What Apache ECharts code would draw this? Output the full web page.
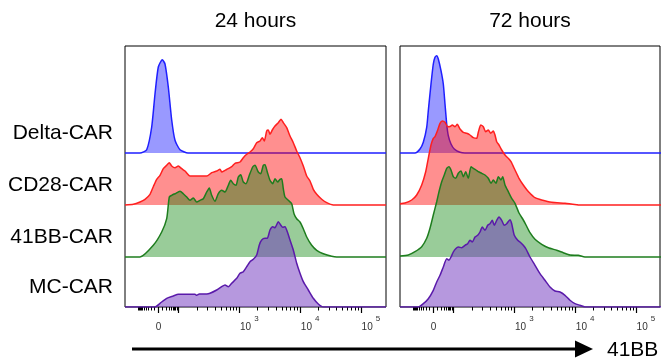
<!DOCTYPE html>
<html><head><meta charset="utf-8">
<script src="https://cdn.jsdelivr.net/npm/echarts@6/dist/echarts.min.js"></script>
<style>html,body{margin:0;padding:0;background:#fff}#c{width:661px;height:359px}</style>
</head><body><div id="c"></div>
<script>
// ---- labels ----
const panels = ['24 hours', '72 hours'];
const rows = ['Delta-CAR', 'CD28-CAR', '41BB-CAR', 'MC-CAR'];
const offsets = [154, 102, 50, 0];          // vertical offset of each row histogram (display units)
const tickValues = [0, 1e3, 1e4, 1e5];       // labelled ticks (41BB fluorescence)
const tickLabels = ['0', '10^3', '10^4', '10^5'];
const axisName = '41BB';

// ---- histograms: [display channel, normalised count] ----
const delta24 = [[0,0],[15,0],[21.7,3.3],[26.7,26],[30,59],[33.3,86],[37.3,93.3],[40,89],[43.3,66],[46.7,33],[50,12.7],[55,3.3],[63,0],[261,0]];
const cd28_24 = [[0,0],[8.3,0.7],[15,3],[20,5.7],[25,10.7],[28.3,18.3],[31.7,25.7],[35,29.7],[38.3,36.3],[41.7,39.7],[44.3,42.3],[46.7,39],[50,37.3],[53.3,39],[56.7,36.3],[60,34],[65,29],[71.7,29],[81.7,29],[86.7,32.3],[91.7,34],[95,35.7],[96.7,33],[100,34.7],[103.3,36.3],[106.7,38.3],[110,41.7],[115,43],[118.3,47.3],[121.7,50.7],[125,53],[128.3,56.3],[131.7,62.3],[135,64],[137.3,67.3],[139.3,64],[141.7,74],[143.3,75],[145,70.7],[147.3,75],[150,79],[153.3,82.3],[156,85.7],[158.3,82.3],[161.7,77.3],[165,69],[168.3,62.3],[171.7,54],[175,47.3],[178.3,39],[181.7,29],[185,24],[188.3,15.7],[191.7,10.7],[196.7,5.7],[201.7,2.3],[208.3,0],[261,0]];
const bb_24 = [[0,0],[15,0],[28.3,11.7],[36.7,25],[41.7,38.3],[44.3,60],[46.7,61.7],[50,63.3],[55,65.7],[58.3,63.3],[61.7,60],[65,56.7],[68.3,59],[71.7,55],[75,56.7],[78.3,58.3],[81.7,65],[84.3,69],[86.7,61.7],[90,55.7],[93.3,63.3],[96.7,66.7],[100,65],[103.3,71.7],[105.7,76.7],[108.3,73.3],[111,71.7],[113.3,80],[115.7,82.3],[118.3,75],[121,73.3],[124.3,81.7],[127.7,90],[130,91.7],[133.3,85],[135.7,83.3],[138.3,91.7],[140,92.3],[142.3,85],[145,76.7],[147.7,73.3],[150,78.3],[152.7,75],[155,77.7],[156.7,78.3],[158.3,68.3],[160,60],[163.3,56.7],[166.7,53.3],[169,43.3],[171.7,38.3],[175,35],[178.3,28.3],[181.7,20],[186.7,11.7],[191.7,6.7],[198.3,3.3],[206.7,0.7],[211.7,0],[261,0]];
const mc_24 = [[0,0],[30,0],[35,3.7],[41.7,8.7],[48.3,11],[53.3,12.7],[61.7,12.7],[70,12.7],[71.7,11.7],[74.3,13],[81.7,13],[85,13.7],[91.7,17],[96.7,20.3],[100,22],[103.3,20.3],[106.7,23.7],[111.7,28.7],[115,33.7],[118.3,35.3],[121.7,40.3],[125,45.3],[128.3,47.7],[131.7,52],[134.3,62],[136.7,67],[140,68.7],[142.3,68.7],[145,77],[147.7,80.3],[150,79.3],[153.3,85.3],[155.7,82],[157.7,79.7],[160,80.3],[162.3,75.3],[165,67],[168.3,57],[171.7,43.7],[175,33.7],[178.3,25.3],[183.3,17],[188.3,8.7],[193.3,3],[198.3,0],[261,0]];

const delta72 = [[0,0],[15,0],[20,4],[23.3,10.7],[26.7,25.7],[28.3,42.3],[31,69],[33.3,89],[35,95.7],[36.7,97.3],[38.3,94],[41,82.3],[43.3,69],[45,49],[46.7,29],[48.3,17.3],[51,9],[54.3,4],[60,0.7],[65,0],[261,0]];
const cd28_72 = [[0,1.3],[5,2],[11.7,5],[16.7,10],[21.7,20],[25.7,33.3],[28.3,46.7],[31,60],[33.3,66.7],[35,68.3],[37.7,75],[40,81.7],[42.3,84],[45,82.7],[47.7,78.3],[50,78.5],[52.3,80],[55,78.3],[57.3,80.7],[60,76],[63.3,72.7],[66.7,71.7],[70,70],[73.3,67.3],[76.7,66.7],[78.3,72.7],[80.7,80],[83.3,78.3],[85.7,73.3],[88.3,75],[90.7,71.7],[93.3,74],[95,70],[96.7,63.3],[99,60],[101.7,55],[105,50],[108.3,46.7],[111,43.3],[115,35],[119,26.7],[123.3,20],[127,15],[130,11.7],[135,7.3],[141.7,5],[151.7,2.7],[165,1.7],[176.7,0.3],[178.3,0],[261,0]];
const bb_72 = [[0,1],[8.3,2],[15,5.3],[21.7,10.3],[26.7,18.7],[30,28.7],[33.3,42],[36.7,55.3],[39,65.3],[41.7,75.3],[44.3,82],[46.7,88.7],[49,90.3],[51,87],[53.3,80.3],[55.7,78.7],[58.3,83.7],[61,86],[63.3,80.3],[65.7,85.3],[68.3,78.7],[71,90.3],[73.3,88.7],[76,87],[78.3,85.3],[81.7,83.7],[85,82],[88.3,78.7],[91,73.7],[93.3,77],[96,73.7],[98.3,80.3],[101,77],[102.7,80.3],[105,72],[108.3,65.3],[111.7,58.7],[115,53.7],[119,44],[123.3,37],[126,32],[130,24.3],[135,17.7],[141.7,12.7],[148.3,9.3],[156.7,6.7],[163.3,4.3],[170,2],[178.3,1.7],[185,0],[261,0]];
const mc_72 = [[0,0],[18.3,0],[23.3,3.3],[28.3,8.3],[33.3,16.7],[36.7,25],[40,31.7],[43.3,40],[46.7,48.3],[49,46.7],[51,50],[53.3,55],[55.7,58.3],[58.3,60],[61.7,59.3],[65,61.7],[67.7,63.3],[70,66.7],[72.3,65],[75,70],[77.7,71.7],[80,75],[82.3,80],[85,76.7],[87.7,81.7],[90,83.3],[92.3,86.7],[94.3,81.7],[96.7,86.7],[99,90],[101.7,86.7],[104.3,81.7],[106.7,83.3],[110,87.3],[111.7,83.3],[114.3,71.7],[117.7,66.7],[120,65],[123.3,61.7],[126,58],[130,50],[135,41.7],[140,33.3],[145,26.7],[150,20],[155,16],[160,15],[165,11.7],[170,6.7],[175,3.3],[180,1.7],[185,0],[261,0]];

const hist = [[delta24, cd28_24, bb_24, mc_24], [delta72, cd28_72, bb_72, mc_72]];

// ---- styling ----
const lineColors = ['#1f1fff', '#ff1f1f', '#1e7d1e', '#5a1aaa'];
const fillColors = ['rgba(0,0,255,0.4)', 'rgba(255,0,0,0.44)', 'rgba(0,128,0,0.4)', 'rgba(110,50,190,0.5)'];
const gridLeft = [125, 400], gridW = [261, 260], gridTop = 46, gridH = 261;
const FONT = 'Liberation Sans, Arial, sans-serif';

// biexponential display transform (value -> display channel)
function pos(v) {
  const a = Math.abs(v);
  if (v >= 100) return 114.3 + 60.8 * (Math.log10(v) - 3);
  return 33.5 + Math.sign(v) * 20.2 * Math.asinh(a / 20) / Math.asinh(5);
}
const majorVals = [0, 100, 1e3, 1e4, 1e5];
const minorVals = [];
for (let k = 1; k <= 9; k++) { minorVals.push(k * 10, -k * 10); }
minorVals.push(-100);
for (let d = 2; d <= 4; d++) for (let k = 2; k <= 9; k++) minorVals.push(k * Math.pow(10, d));
const majorPos = majorVals.map(pos);
const minorPos = minorVals.map(pos);
const labelPos = tickValues.map(pos);

function xLabel(value) {
  let i = labelPos.findIndex(p => Math.abs(p - value) < 0.01);
  if (i < 0) return '';
  const t = tickLabels[i];
  if (t.indexOf('^') < 0) return '{z|' + t + '}';
  const [b, e] = t.split('^');
  return '{b|' + b + '}{s|' + e + '}';
}

const xAxis = [], yAxis = [], grid = [], series = [];
panels.forEach((name, p) => {
  grid.push({left: gridLeft[p], top: gridTop, width: gridW[p], height: gridH, show: true,
    borderColor: '#000', borderWidth: 1, backgroundColor: 'transparent'});
  xAxis.push({
    gridIndex: p, type: 'value', min: 0, max: gridW[p], position: 'bottom',
    axisLine: {show: false}, splitLine: {show: false},
    axisTick: {show: true, customValues: majorPos, length: 6, lineStyle: {color: '#000', width: 1.2}},
    axisLabel: {
      customValues: labelPos, formatter: xLabel, margin: 8, color: '#333',
      rich: {
        z: {fontFamily: FONT, fontSize: 10, color: '#333', lineHeight: 17, verticalAlign: 'bottom'},
        b: {fontFamily: FONT, fontSize: 10, color: '#333', lineHeight: 17, verticalAlign: 'bottom', padding: [0, 0, 0, 20]},
        s: {fontFamily: FONT, fontSize: 8, color: '#333', lineHeight: 7, verticalAlign: 'top', padding: [0, 0, 0, 3]}
      }
    }
  });
  xAxis.push({
    gridIndex: p, type: 'value', min: 0, max: gridW[p], position: 'bottom',
    axisLine: {show: false}, splitLine: {show: false}, axisLabel: {show: false},
    axisTick: {show: true, customValues: minorPos, length: 3.5, lineStyle: {color: '#000', width: 1}}
  });
  yAxis.push({
    gridIndex: p, type: 'value', min: 0, max: gridH,
    axisLine: {show: false}, axisTick: {show: false}, splitLine: {show: false},
    axisLabel: p === 0 ? {
      customValues: offsets.map(o => o + 20),
      formatter: v => { const i = offsets.findIndex(o => Math.abs(o + 20 - v) < 0.01); return i < 0 ? '' : rows[i]; },
      fontFamily: FONT, fontSize: 21, color: '#000', margin: 12
    } : {show: false}
  });
  hist[p].forEach((d, r) => {
    series.push({
      name: rows[r] + ' ' + name, type: 'line', xAxisIndex: 2 * p, yAxisIndex: p,
      data: d.map(([x, h]) => [x, h + offsets[r]]),
      symbol: 'none', showSymbol: false, smooth: 0.2, silent: true, z: 2 + r,
      lineStyle: {color: lineColors[r], width: 1.5},
      areaStyle: {color: fillColors[r], opacity: 1, origin: offsets[r]}
    });
  });
});

const graphic = [];
panels.forEach((name, p) => {
  graphic.push({type: 'text', x: gridLeft[p] + gridW[p] / 2, y: 21,
    style: {text: name, font: '21px ' + FONT, fill: '#000', align: 'center', verticalAlign: 'middle',
      textAlign: 'center', textVerticalAlign: 'middle'}});
});
graphic.push({type: 'line', shape: {x1: 132, y1: 349, x2: 578, y2: 349}, style: {stroke: '#000', lineWidth: 3}});
graphic.push({type: 'polygon', shape: {points: [[575, 340.5], [593, 349], [575, 357.5]]}, style: {fill: '#000'}});
graphic.push({type: 'text', x: 607, y: 350,
  style: {text: axisName, font: '21px ' + FONT, fill: '#000', align: 'left', verticalAlign: 'middle',
    textAlign: 'left', textVerticalAlign: 'middle'}});

const chart = echarts.init(document.getElementById('c'), null, {renderer: 'canvas'});
chart.setOption({animation: false, backgroundColor: '#fff', grid, xAxis, yAxis, series, graphic});
</script></body></html>
